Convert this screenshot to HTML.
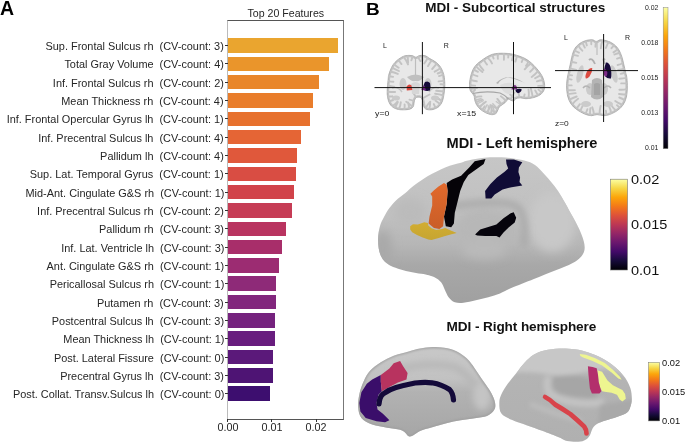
<!DOCTYPE html>
<html><head><meta charset="utf-8">
<style>
html,body{margin:0;padding:0;background:#fff;}
body{width:685px;height:443px;position:relative;overflow:hidden;will-change:transform;font-family:"Liberation Sans",sans-serif;color:#262626;}
.abs{position:absolute;}
.bar{position:absolute;left:227.8px;height:14.6px;}
.lab{position:absolute;right:461px;height:14px;line-height:14px;font-size:10.4px;white-space:nowrap;transform:scaleX(1.05);transform-origin:right center;}
.ytick{position:absolute;left:225.3px;width:2.5px;height:1px;background:#333;}
.panel{position:absolute;font-weight:bold;color:#000;}
.xt{position:absolute;top:422px;font-size:10.4px;width:40px;text-align:center;transform:scaleX(1.037);}
.ttl{position:absolute;font-weight:bold;color:#111;white-space:nowrap;}
.small{position:absolute;font-size:7px;color:#333;}
</style></head><body>
<div class="panel" style="left:0px;top:-3px;font-size:19.5px;">A</div>
<div class="abs" style="left:227.3px;top:7.2px;width:117px;text-align:center;font-size:10.6px;">Top 20 Features</div>
<!-- axes box -->
<div class="abs" style="left:227.3px;top:20px;width:114.8px;height:398.3px;border:1px solid #555;border-color:#555 #777 #555 #bbb;"></div>
<div class="bar" style="top:38.20px;width:110.00px;background:#EAA52F"></div>
<div class="lab" style="top:40.00px">Sup. Frontal Sulcus rh&nbsp; (CV-count: 3)</div>
<div class="ytick" style="top:45.00px"></div>
<div class="bar" style="top:56.53px;width:101.20px;background:#EA952B"></div>
<div class="lab" style="top:58.33px">Total Gray Volume&nbsp; (CV-count: 4)</div>
<div class="ytick" style="top:63.33px"></div>
<div class="bar" style="top:74.86px;width:91.00px;background:#E9862A"></div>
<div class="lab" style="top:76.66px">Inf. Frontal Sulcus rh&nbsp; (CV-count: 2)</div>
<div class="ytick" style="top:81.66px"></div>
<div class="bar" style="top:93.19px;width:85.20px;background:#E97D2B"></div>
<div class="lab" style="top:94.99px">Mean Thickness rh&nbsp; (CV-count: 4)</div>
<div class="ytick" style="top:99.99px"></div>
<div class="bar" style="top:111.52px;width:82.20px;background:#E7712E"></div>
<div class="lab" style="top:113.32px">Inf. Frontal Opercular Gyrus lh&nbsp; (CV-count: 1)</div>
<div class="ytick" style="top:118.32px"></div>
<div class="bar" style="top:129.85px;width:73.20px;background:#E56535"></div>
<div class="lab" style="top:131.65px">Inf. Precentral Sulcus lh&nbsp; (CV-count: 4)</div>
<div class="ytick" style="top:136.65px"></div>
<div class="bar" style="top:148.18px;width:69.60px;background:#E0583B"></div>
<div class="lab" style="top:149.98px">Pallidum lh&nbsp; (CV-count: 4)</div>
<div class="ytick" style="top:154.98px"></div>
<div class="bar" style="top:166.51px;width:68.50px;background:#D94D43"></div>
<div class="lab" style="top:168.31px">Sup. Lat. Temporal Gyrus&nbsp; (CV-count: 1)</div>
<div class="ytick" style="top:173.31px"></div>
<div class="bar" style="top:184.84px;width:65.80px;background:#D1434A"></div>
<div class="lab" style="top:186.64px">Mid-Ant. Cingulate G&amp;S rh&nbsp; (CV-count: 1)</div>
<div class="ytick" style="top:191.64px"></div>
<div class="bar" style="top:203.17px;width:64.40px;background:#C63C55"></div>
<div class="lab" style="top:204.97px">Inf. Precentral Sulcus rh&nbsp; (CV-count: 2)</div>
<div class="ytick" style="top:209.97px"></div>
<div class="bar" style="top:221.50px;width:58.30px;background:#B93460"></div>
<div class="lab" style="top:223.30px">Pallidum rh&nbsp; (CV-count: 3)</div>
<div class="ytick" style="top:228.30px"></div>
<div class="bar" style="top:239.83px;width:53.80px;background:#A82E6A"></div>
<div class="lab" style="top:241.63px">Inf. Lat. Ventricle lh&nbsp; (CV-count: 3)</div>
<div class="ytick" style="top:246.63px"></div>
<div class="bar" style="top:258.16px;width:51.30px;background:#9C2C72"></div>
<div class="lab" style="top:259.96px">Ant. Cingulate G&amp;S rh&nbsp; (CV-count: 1)</div>
<div class="ytick" style="top:264.96px"></div>
<div class="bar" style="top:276.49px;width:48.40px;background:#8E2A78"></div>
<div class="lab" style="top:278.29px">Pericallosal Sulcus rh&nbsp; (CV-count: 1)</div>
<div class="ytick" style="top:283.29px"></div>
<div class="bar" style="top:294.82px;width:48.20px;background:#82267D"></div>
<div class="lab" style="top:296.62px">Putamen rh&nbsp; (CV-count: 3)</div>
<div class="ytick" style="top:301.62px"></div>
<div class="bar" style="top:313.15px;width:47.30px;background:#75227E"></div>
<div class="lab" style="top:314.95px">Postcentral Sulcus lh&nbsp; (CV-count: 3)</div>
<div class="ytick" style="top:319.95px"></div>
<div class="bar" style="top:331.48px;width:47.10px;background:#681D7E"></div>
<div class="lab" style="top:333.28px">Mean Thickness lh&nbsp; (CV-count: 1)</div>
<div class="ytick" style="top:338.28px"></div>
<div class="bar" style="top:349.81px;width:45.50px;background:#5B197A"></div>
<div class="lab" style="top:351.61px">Post. Lateral Fissure&nbsp; (CV-count: 0)</div>
<div class="ytick" style="top:356.61px"></div>
<div class="bar" style="top:368.14px;width:44.80px;background:#4E1474"></div>
<div class="lab" style="top:369.94px">Precentral Gyrus lh&nbsp; (CV-count: 3)</div>
<div class="ytick" style="top:374.94px"></div>
<div class="bar" style="top:386.47px;width:42.50px;background:#3D0E6F"></div>
<div class="lab" style="top:388.27px">Post. Collat. Transv.Sulcus lh&nbsp; (CV-count: 0)</div>
<div class="ytick" style="top:393.27px"></div>
<div class="abs" style="left:227.3px;top:419px;width:1px;height:3px;background:#333"></div>
<div class="abs" style="left:271.4px;top:419px;width:1px;height:3px;background:#333"></div>
<div class="abs" style="left:315.8px;top:419px;width:1px;height:3px;background:#333"></div>
<div class="xt" style="left:207.8px">0.00</div>
<div class="xt" style="left:251.7px">0.01</div>
<div class="xt" style="left:295.7px">0.02</div>

<div class="panel" style="left:365.5px;top:0.3px;font-size:16.5px;transform:scaleX(1.15);transform-origin:left;">B</div>
<div class="ttl" style="left:425.3px;top:-0.4px;font-size:13.5px;">MDI - Subcortical structures</div>
<div class="ttl" style="left:446.6px;top:134.5px;font-size:14.6px;letter-spacing:-0.08px;">MDI - Left hemisphere</div>
<div class="ttl" style="left:446.6px;top:319px;font-size:13.6px;letter-spacing:-0.1px;">MDI - Right hemisphere</div>

<svg class="abs" style="left:0;top:0" width="685" height="443" viewBox="0 0 685 443">
<defs>
<linearGradient id="inf" x1="0" y1="0" x2="0" y2="1"><stop offset="0" stop-color="#fcffa4"/><stop offset="0.1" stop-color="#f6d746"/><stop offset="0.2" stop-color="#fca50a"/><stop offset="0.3" stop-color="#f37819"/><stop offset="0.4" stop-color="#dd513a"/><stop offset="0.5" stop-color="#bc3754"/><stop offset="0.6" stop-color="#932667"/><stop offset="0.7" stop-color="#6a176e"/><stop offset="0.8" stop-color="#420a68"/><stop offset="0.9" stop-color="#160b39"/><stop offset="1" stop-color="#000004"/></linearGradient>
<linearGradient id="lhg" x1="0" y1="0" x2="0" y2="1"><stop offset="0" stop-color="#c6c6c6"/><stop offset="0.4" stop-color="#c0c0c0"/><stop offset="0.6" stop-color="#b6b6b6"/><stop offset="0.74" stop-color="#a8a8a8"/><stop offset="1" stop-color="#a0a0a0"/></linearGradient>
<linearGradient id="rhg" x1="0" y1="0" x2="0" y2="1"><stop offset="0" stop-color="#c6c6c6"/><stop offset="0.5" stop-color="#b4b4b4"/><stop offset="1" stop-color="#a4a4a4"/></linearGradient>
<filter id="blur1"><feGaussianBlur stdDeviation="3"/></filter>
<filter id="blur3" x="-50%" y="-50%" width="200%" height="200%"><feGaussianBlur stdDeviation="3"/></filter>
<filter id="blur1s" x="-10%" y="-10%" width="120%" height="120%"><feGaussianBlur stdDeviation="0.8"/></filter>
<filter id="blur2" x="-10%" y="-10%" width="120%" height="120%"><feGaussianBlur stdDeviation="2"/></filter>
<filter id="blur5" x="-50%" y="-50%" width="200%" height="200%"><feGaussianBlur stdDeviation="5"/></filter>
<linearGradient id="rmg" x1="0" y1="0" x2="0" y2="1"><stop offset="0" stop-color="#c8c8c8"/><stop offset="0.35" stop-color="#c2c2c2"/><stop offset="0.5" stop-color="#b2b2b2"/><stop offset="1" stop-color="#a6a6a6"/></linearGradient>
<linearGradient id="rlg" x1="0" y1="0" x2="0" y2="1"><stop offset="0" stop-color="#c8c8c8"/><stop offset="0.25" stop-color="#b4b4b4"/><stop offset="1" stop-color="#b0b0b0"/></linearGradient>
<filter id="blur05"><feGaussianBlur stdDeviation="0.6"/></filter>
</defs>
<path d="M405.8,55.6 C407.6,55.3 410.4,55.3 412.1,55.6 C413.8,55.9 414.6,57.2 415.8,57.2 C417.0,57.2 417.9,55.9 419.4,55.6 C420.9,55.3 423.1,55.2 424.8,55.6 C426.5,56.0 427.5,57.2 429.3,58.3 C431.1,59.4 433.9,60.6 435.7,62.0 C437.5,63.4 439.0,64.8 440.2,66.5 C441.4,68.2 442.2,70.1 442.9,71.9 C443.6,73.7 444.0,75.0 444.3,77.3 C444.6,79.6 444.9,83.2 444.8,86.0 C444.8,88.8 444.4,91.5 444.0,94.0 C443.6,96.5 443.3,98.9 442.5,101.0 C441.7,103.1 440.6,105.1 439.0,106.5 C437.4,107.9 435.0,109.0 433.0,109.5 C431.0,110.0 428.5,109.9 427.0,109.5 C425.5,109.1 424.8,108.5 424.0,107.0 C423.2,105.5 423.1,102.1 422.5,100.5 C421.9,98.9 421.5,98.0 420.5,97.5 C419.5,97.0 417.5,97.0 416.5,97.5 C415.5,98.0 415.1,98.9 414.5,100.5 C413.9,102.1 414.1,105.5 413.0,107.0 C411.9,108.5 410.4,109.1 408.0,109.5 C405.6,109.9 401.2,110.0 398.5,109.5 C395.8,109.0 393.7,107.9 392.0,106.5 C390.3,105.1 389.3,103.1 388.5,101.0 C387.7,98.9 387.4,96.5 387.2,94.0 C387.0,91.5 387.3,88.5 387.5,86.0 C387.7,83.5 388.0,80.8 388.2,79.1 C388.4,77.3 388.2,77.0 388.6,75.5 C389.0,74.0 389.6,71.9 390.4,70.1 C391.1,68.3 392.0,66.3 393.1,64.7 C394.2,63.1 395.4,61.8 396.8,60.6 C398.2,59.4 399.8,58.2 401.3,57.4 C402.8,56.6 404.0,55.9 405.8,55.6Z" fill="#c3c3c3" stroke="#9c9c9c" stroke-width="0.7"/>
<clipPath id="ccor"><path d="M405.8,55.6 C407.6,55.3 410.4,55.3 412.1,55.6 C413.8,55.9 414.6,57.2 415.8,57.2 C417.0,57.2 417.9,55.9 419.4,55.6 C420.9,55.3 423.1,55.2 424.8,55.6 C426.5,56.0 427.5,57.2 429.3,58.3 C431.1,59.4 433.9,60.6 435.7,62.0 C437.5,63.4 439.0,64.8 440.2,66.5 C441.4,68.2 442.2,70.1 442.9,71.9 C443.6,73.7 444.0,75.0 444.3,77.3 C444.6,79.6 444.9,83.2 444.8,86.0 C444.8,88.8 444.4,91.5 444.0,94.0 C443.6,96.5 443.3,98.9 442.5,101.0 C441.7,103.1 440.6,105.1 439.0,106.5 C437.4,107.9 435.0,109.0 433.0,109.5 C431.0,110.0 428.5,109.9 427.0,109.5 C425.5,109.1 424.8,108.5 424.0,107.0 C423.2,105.5 423.1,102.1 422.5,100.5 C421.9,98.9 421.5,98.0 420.5,97.5 C419.5,97.0 417.5,97.0 416.5,97.5 C415.5,98.0 415.1,98.9 414.5,100.5 C413.9,102.1 414.1,105.5 413.0,107.0 C411.9,108.5 410.4,109.1 408.0,109.5 C405.6,109.9 401.2,110.0 398.5,109.5 C395.8,109.0 393.7,107.9 392.0,106.5 C390.3,105.1 389.3,103.1 388.5,101.0 C387.7,98.9 387.4,96.5 387.2,94.0 C387.0,91.5 387.3,88.5 387.5,86.0 C387.7,83.5 388.0,80.8 388.2,79.1 C388.4,77.3 388.2,77.0 388.6,75.5 C389.0,74.0 389.6,71.9 390.4,70.1 C391.1,68.3 392.0,66.3 393.1,64.7 C394.2,63.1 395.4,61.8 396.8,60.6 C398.2,59.4 399.8,58.2 401.3,57.4 C402.8,56.6 404.0,55.9 405.8,55.6Z"/></clipPath>
<path d="M406.1,57.5 L405.8,57.5 L405.4,57.6 L405.1,57.7 L404.8,57.8 L404.5,57.9 L404.2,58.0 L403.9,58.2 L403.6,58.3 L403.3,58.5 L402.9,58.7 L402.6,58.9 L402.2,59.1 L401.9,59.3 L401.5,59.5 L401.2,59.7 L400.8,59.9 L400.5,60.2 L400.1,60.4 L399.7,60.7 L399.4,60.9 L399.0,61.2 L398.7,61.5 L398.4,61.7 L398.1,62.0 L397.7,62.3 L397.4,62.6 L397.1,62.9 L396.8,63.2 L396.5,63.5 L396.2,63.8 L396.0,64.1 L395.7,64.4 L395.4,64.7 L395.2,65.1 L394.9,65.4 L394.7,65.8 L394.4,66.1 L394.2,66.5 L394.0,66.9 L393.8,67.3 L393.6,67.7 L393.3,68.1 L393.1,68.6 L392.9,69.0 L392.7,69.5 L392.5,69.9 L392.3,70.4 L392.2,70.8 L392.0,71.3 L391.8,71.7 L391.6,72.2 L391.5,72.6 L391.3,73.1 L391.2,73.5 L391.0,74.0 L390.9,74.4 L390.8,74.8 L390.6,75.2 L390.5,75.6 L390.4,75.9 L390.4,76.3 L390.3,76.5 L390.3,76.7 L390.3,76.9 L390.2,77.1 L390.2,77.3 L390.2,77.6 L390.2,77.8 L390.2,77.8 L390.2,78.1 L390.2,78.1 L390.2,78.5 L390.2,78.5 L390.1,78.8 L390.1,78.9 L390.1,79.3 L390.1,79.3 L390.0,79.8 L390.0,79.8 L390.0,80.3 L390.0,80.3 L389.9,80.8 L389.9,81.3 L389.8,81.9 L389.7,82.5 L389.7,83.1 L389.6,83.7 L389.5,84.3 L389.5,84.9 L389.4,85.5 L389.4,86.1 L389.4,86.8 L389.4,86.8 L389.3,87.4 L389.3,88.1 L389.2,88.8 L389.2,89.4 L389.1,90.1 L389.1,90.8 L389.1,91.4 L389.1,92.1 L389.1,92.7 L389.1,93.3 L389.1,93.9 L389.1,94.5 L389.2,95.1 L389.2,95.6 L389.3,96.2 L389.4,96.8 L389.5,97.3 L389.6,97.9 L389.7,98.4 L389.8,98.9 L390.0,99.4 L390.1,99.9 L390.3,100.3 L390.5,100.8 L390.7,101.3 L390.9,101.7 L391.1,102.2 L391.3,102.6 L391.6,103.0 L391.8,103.4 L392.1,103.8 L392.3,104.1 L392.6,104.5 L392.9,104.8 L393.2,105.1 L393.6,105.3 L394.0,105.6 L394.4,105.9 L394.8,106.2 L395.2,106.4 L395.7,106.6 L396.2,106.8 L396.7,107.0 L397.2,107.2 L397.7,107.4 L398.3,107.5 L398.8,107.6 L399.5,107.7 L400.2,107.8 L400.9,107.9 L401.7,107.9 L402.5,107.9 L403.3,107.9 L404.2,107.9 L405.0,107.9 L405.7,107.9 L406.5,107.8 L407.1,107.7 L407.7,107.6 L408.2,107.5 L408.7,107.4 L409.1,107.3 L409.5,107.2 L409.9,107.1 L410.2,106.9 L410.4,106.8 L410.7,106.7 L410.9,106.5 L411.1,106.3 L411.3,106.1 L411.4,105.9 L411.5,105.7 L411.7,105.5 L411.8,105.1 L411.9,104.6 L412.0,104.1 L412.1,103.5 L412.1,102.9 L412.2,102.3 L412.2,102.3 L412.3,101.7 L412.3,101.7 L412.4,101.1 L412.4,101.0 L412.5,100.5 L412.6,100.4 L412.7,99.9 L412.7,99.8 L412.9,99.5 L412.9,99.4 L413.0,99.1 L413.0,99.0 L413.2,98.7 L413.2,98.7 L413.3,98.3 L413.4,98.3 L413.5,98.0 L413.5,97.9 L413.7,97.6 L413.8,97.5 L413.9,97.3 L414.0,97.2 L414.2,97.0 L414.3,96.8 L414.5,96.7 L414.6,96.5 L414.8,96.4 L415.0,96.2 L415.2,96.1 L415.3,96.0 L415.6,95.8 L415.8,95.8 L416.0,95.6 L416.2,95.6 L416.5,95.5 L416.7,95.4 L417.0,95.4 L417.1,95.3 L417.5,95.3 L417.6,95.3 L418.0,95.2 L418.1,95.2 L418.4,95.2 L418.6,95.2 L418.9,95.2 L419.0,95.2 L419.4,95.3 L419.5,95.3 L419.9,95.3 L420.0,95.4 L420.3,95.4 L420.5,95.5 L420.8,95.6 L421.0,95.6 L421.2,95.8 L421.4,95.8 L421.7,96.0 L421.8,96.1 L422.0,96.2 L422.2,96.4 L422.4,96.5 L422.5,96.7 L422.7,96.8 L422.8,97.0 L423.0,97.2 L423.1,97.3 L423.2,97.5 L423.3,97.6 L423.5,97.9 L423.5,98.0 L423.6,98.3 L423.7,98.3 L423.8,98.7 L423.8,98.7 L424.0,99.0 L424.0,99.1 L424.1,99.4 L424.1,99.5 L424.3,99.8 L424.3,99.9 L424.4,100.4 L424.5,100.5 L424.6,101.0 L424.6,101.0 L424.7,101.6 L424.7,101.6 L424.9,102.2 L424.9,102.2 L425.0,102.8 L425.0,102.9 L425.1,103.5 L425.2,104.1 L425.3,104.6 L425.4,105.1 L425.5,105.6 L425.6,105.9 L425.7,106.2 L425.8,106.4 L426.0,106.7 L426.1,106.8 L426.2,107.0 L426.3,107.1 L426.4,107.2 L426.5,107.3 L426.7,107.3 L426.8,107.4 L427.0,107.5 L427.2,107.6 L427.5,107.7 L427.8,107.7 L428.1,107.8 L428.5,107.9 L428.9,107.9 L429.4,107.9 L429.8,107.9 L430.3,107.9 L430.8,107.9 L431.2,107.9 L431.7,107.8 L432.1,107.7 L432.5,107.7 L433.0,107.5 L433.4,107.4 L433.9,107.2 L434.4,107.1 L434.9,106.9 L435.3,106.6 L435.8,106.4 L436.2,106.2 L436.6,105.9 L437.0,105.6 L437.4,105.4 L437.7,105.1 L438.0,104.8 L438.3,104.5 L438.6,104.1 L438.9,103.8 L439.2,103.4 L439.4,103.0 L439.7,102.6 L439.9,102.2 L440.1,101.7 L440.3,101.2 L440.5,100.8 L440.7,100.3 L440.9,99.8 L441.1,99.4 L441.2,98.9 L441.3,98.4 L441.4,97.8 L441.6,97.3 L441.7,96.7 L441.8,96.2 L441.8,95.6 L441.9,95.0 L442.0,94.3 L442.0,94.3 L442.1,93.7 L442.2,93.1 L442.3,92.5 L442.4,91.8 L442.5,91.2 L442.6,90.5 L442.6,89.9 L442.7,89.3 L442.8,88.6 L442.8,87.9 L442.9,87.3 L442.9,86.6 L442.9,86.0 L442.9,85.3 L442.9,84.6 L442.9,83.8 L442.9,83.1 L442.8,82.4 L442.8,81.6 L442.7,80.9 L442.7,80.1 L442.6,79.4 L442.6,78.8 L442.5,78.1 L442.4,77.6 L442.3,77.0 L442.3,76.5 L442.2,76.1 L442.1,75.7 L442.0,75.3 L441.9,74.9 L441.8,74.5 L441.7,74.2 L441.6,73.8 L441.4,73.4 L441.3,73.0 L441.1,72.6 L441.0,72.1 L440.8,71.7 L440.6,71.3 L440.4,70.8 L440.2,70.4 L440.0,70.0 L439.8,69.5 L439.6,69.1 L439.4,68.7 L439.2,68.4 L438.9,68.0 L438.7,67.6 L438.4,67.2 L438.1,66.9 L437.8,66.5 L437.5,66.2 L437.2,65.8 L436.8,65.5 L436.5,65.1 L436.1,64.8 L435.8,64.5 L435.4,64.2 L435.0,63.8 L434.6,63.5 L434.1,63.2 L433.7,62.9 L433.2,62.6 L432.7,62.3 L432.1,62.0 L431.6,61.7 L431.0,61.4 L430.5,61.1 L429.9,60.8 L429.9,60.8 L429.4,60.5 L429.4,60.5 L428.9,60.2 L428.8,60.2 L428.4,59.9 L428.3,59.9 L427.9,59.7 L427.8,59.6 L427.4,59.3 L427.4,59.3 L427.0,59.1 L427.0,59.0 L426.6,58.8 L426.6,58.8 L426.2,58.5 L425.9,58.3 L425.6,58.1 L425.3,57.9 L425.1,57.7 L424.8,57.6 L424.6,57.5 L424.3,57.4 L424.0,57.4 L423.7,57.3 L423.3,57.3 L422.9,57.2 L422.5,57.2 L422.1,57.2 L421.7,57.2 L421.3,57.3 L420.8,57.3 L420.5,57.4 L420.1,57.4 L419.8,57.5 L419.6,57.5 L419.4,57.6 L419.2,57.7 L419.0,57.8 L418.8,57.9 L418.5,58.1 L418.5,58.1 L418.2,58.3 L418.2,58.3 L417.9,58.5 L417.8,58.5 L417.5,58.7 L417.4,58.8 L417.1,58.9 L416.9,58.9 L416.6,59.0 L416.4,59.0 L416.3,59.1 L416.0,59.1 L415.8,59.1 L415.6,59.1 L415.3,59.1 L415.2,59.0 L415.0,59.0 L414.7,58.9 L414.5,58.9 L414.2,58.7 L414.1,58.7 L413.8,58.5 L413.7,58.5 L413.4,58.3 L413.4,58.3 L413.1,58.1 L412.8,57.9 L412.6,57.8 L412.4,57.7 L412.2,57.6 L412.0,57.5 L411.8,57.5 L411.4,57.4 L411.0,57.4 L410.5,57.3 L410.0,57.3 L409.5,57.3 L409.0,57.3 L408.5,57.3 L407.9,57.3 L407.4,57.3 L407.0,57.4 L406.5,57.4 L406.1,57.5Z" fill="#e8e8e8"/>
<path d="M403.4,56.3 Q406.6,60.5 408.0,64.4 M397.9,59.7 Q400.0,62.1 401.5,64.1 M393.6,63.9 Q396.3,66.1 398.6,67.8 M391.6,67.4 Q395.6,69.4 398.9,71.0 M389.8,71.5 Q394.4,72.5 397.8,73.9 M388.4,76.3 Q391.0,76.5 393.1,76.9 M388.0,80.8 Q390.9,81.7 393.4,81.8 M387.6,85.2 Q391.1,86.8 394.1,86.7 M387.2,91.7 Q391.5,91.9 395.1,92.0 M387.4,96.2 Q390.2,96.8 392.3,96.3 M388.7,101.5 Q391.2,100.8 393.1,100.0 M392.0,106.5 Q395.6,104.2 397.5,101.5 M394.9,108.4 Q396.4,104.9 397.8,102.1 M398.8,109.5 Q400.5,105.6 400.8,102.3 M404.2,109.8 Q404.9,106.8 404.6,104.4 M409.2,109.3 Q409.0,105.5 408.1,102.5 M413.0,107.0 Q409.5,103.9 406.2,101.8 M414.3,101.2 Q411.7,100.0 409.5,99.6 M416.1,97.7 Q415.2,95.4 413.9,93.8 M421.8,98.9 Q426.0,96.4 429.5,94.5 M423.1,103.2 Q420.9,103.8 419.1,104.0 M425.2,108.7 Q427.6,104.5 430.2,101.7 M429.0,109.8 Q430.2,105.7 430.2,102.4 M435.8,108.5 Q434.7,106.1 433.8,104.1 M440.7,104.5 Q438.0,102.3 435.6,100.8 M442.4,101.4 Q438.9,98.5 435.6,97.5 M443.8,95.5 Q439.0,94.2 435.1,93.8 M444.4,91.1 Q439.8,91.5 436.2,90.8 M444.8,84.6 Q442.4,84.1 440.5,84.2 M444.6,80.6 Q441.3,81.3 438.6,81.4 M443.8,74.7 Q441.2,75.6 439.0,76.1 M442.7,71.4 Q440.0,72.6 437.7,73.5 M441.0,67.7 Q437.6,70.1 434.7,71.7 M437.1,63.2 Q434.5,66.5 432.2,69.0 M432.2,59.9 Q429.4,63.0 428.0,66.1 M427.9,57.3 Q426.3,61.0 424.3,63.4 M421.9,55.3 Q422.5,58.3 422.4,60.7 M418.0,56.2 Q419.0,59.1 420.3,61.1 M412.6,55.7 Q412.1,58.3 411.4,60.3 M407.6,55.4 Q408.0,59.6 408.1,63.1" fill="none" stroke="#c3c3c3" stroke-width="1.9" stroke-linecap="round" clip-path="url(#ccor)"/>
<path d="M415.5,57 L415.5,75" stroke="#bdbdbd" stroke-width="1.2"/>
<g filter="url(#blur05)" fill="#cbcbcb">
<ellipse cx="403" cy="84" rx="3.5" ry="6"/>
<ellipse cx="428" cy="84" rx="3.5" ry="6"/>
<ellipse cx="396" cy="98" rx="4" ry="2.5"/>
<ellipse cx="435" cy="98" rx="4" ry="2.5"/>
</g>
<path d="M407,77 Q415.5,72 424,77 Q420,82 415.5,81 Q411,82 407,77Z" fill="#c0c0c0"/>
<path d="M411,84 Q415.5,80 420,84 L419,94 L412,94Z" fill="#d6d6d6"/>
<path d="M392,88 Q398,86 402,92 M439,88 Q433,86 429,92" fill="none" stroke="#c4c4c4" stroke-width="1.5"/>
<path d="M406.8,90.5 L406.6,86.5 Q409,83 411.5,85.5 L412.3,90 Z" fill="#d9473e"/>
<path d="M425,82 Q428,80.5 430,83 Q431,87 430,90.5 Q426,91.5 424,90 Q422,87 425,82Z" fill="#160b3a"/>
<path d="M421.5,90 Q421.6,86.5 424.5,85.5 L426,90.5Z" fill="#6f2382"/>
<path d="M469.5,84.0 C469.6,81.5 470.2,77.8 471.0,75.0 C471.8,72.2 472.8,69.4 474.5,67.0 C476.2,64.6 478.4,62.7 481.4,60.6 C484.4,58.5 488.4,55.5 492.4,54.3 C496.3,53.1 501.2,53.2 505.1,53.3 C509.1,53.4 512.4,54.0 516.1,55.1 C519.8,56.2 523.8,57.6 527.2,59.8 C530.6,62.0 534.1,65.5 536.7,68.5 C539.3,71.5 541.7,74.8 543.0,78.0 C544.3,81.2 544.9,84.9 544.6,87.5 C544.3,90.1 543.2,92.1 541.4,93.8 C539.6,95.5 536.6,96.7 534.0,97.5 C531.4,98.3 528.1,98.7 525.8,98.7 C523.5,98.8 521.9,97.8 520.2,97.8 C518.5,97.8 516.6,98.4 515.5,98.9 C514.4,99.4 514.5,100.8 513.7,101.0 C512.9,101.2 511.8,100.6 510.9,100.3 C510.0,100.0 509.0,98.8 508.1,99.2 C507.2,99.6 506.4,101.4 505.3,102.4 C504.2,103.4 502.5,104.4 501.5,105.2 C500.5,106.0 499.8,106.3 499.2,107.1 C498.6,107.9 498.4,108.8 497.8,109.9 C497.2,111.0 497.0,112.8 495.9,113.6 C494.8,114.4 492.9,114.8 491.2,114.6 C489.5,114.4 487.5,113.6 485.6,112.7 C483.7,111.8 481.6,110.4 480.0,109.0 C478.4,107.6 477.2,105.9 476.3,104.3 C475.4,102.7 475.0,100.8 474.6,99.5 C474.2,98.2 474.6,97.2 474.2,96.2 C473.8,95.2 473.2,94.6 472.5,93.6 C471.8,92.6 470.7,91.9 470.2,90.3 C469.7,88.7 469.4,86.5 469.5,84.0Z" fill="#c3c3c3" stroke="#9c9c9c" stroke-width="0.7"/>
<clipPath id="csag"><path d="M469.5,84.0 C469.6,81.5 470.2,77.8 471.0,75.0 C471.8,72.2 472.8,69.4 474.5,67.0 C476.2,64.6 478.4,62.7 481.4,60.6 C484.4,58.5 488.4,55.5 492.4,54.3 C496.3,53.1 501.2,53.2 505.1,53.3 C509.1,53.4 512.4,54.0 516.1,55.1 C519.8,56.2 523.8,57.6 527.2,59.8 C530.6,62.0 534.1,65.5 536.7,68.5 C539.3,71.5 541.7,74.8 543.0,78.0 C544.3,81.2 544.9,84.9 544.6,87.5 C544.3,90.1 543.2,92.1 541.4,93.8 C539.6,95.5 536.6,96.7 534.0,97.5 C531.4,98.3 528.1,98.7 525.8,98.7 C523.5,98.8 521.9,97.8 520.2,97.8 C518.5,97.8 516.6,98.4 515.5,98.9 C514.4,99.4 514.5,100.8 513.7,101.0 C512.9,101.2 511.8,100.6 510.9,100.3 C510.0,100.0 509.0,98.8 508.1,99.2 C507.2,99.6 506.4,101.4 505.3,102.4 C504.2,103.4 502.5,104.4 501.5,105.2 C500.5,106.0 499.8,106.3 499.2,107.1 C498.6,107.9 498.4,108.8 497.8,109.9 C497.2,111.0 497.0,112.8 495.9,113.6 C494.8,114.4 492.9,114.8 491.2,114.6 C489.5,114.4 487.5,113.6 485.6,112.7 C483.7,111.8 481.6,110.4 480.0,109.0 C478.4,107.6 477.2,105.9 476.3,104.3 C475.4,102.7 475.0,100.8 474.6,99.5 C474.2,98.2 474.6,97.2 474.2,96.2 C473.8,95.2 473.2,94.6 472.5,93.6 C471.8,92.6 470.7,91.9 470.2,90.3 C469.7,88.7 469.4,86.5 469.5,84.0Z"/></clipPath>
<path d="M471.4,84.1 L471.4,84.7 L471.4,85.2 L471.4,85.8 L471.4,86.3 L471.4,86.8 L471.5,87.3 L471.6,87.7 L471.6,88.2 L471.7,88.6 L471.8,89.0 L471.9,89.4 L472.0,89.7 L472.1,90.0 L472.2,90.2 L472.3,90.4 L472.4,90.6 L472.6,90.8 L472.7,91.0 L472.9,91.2 L473.1,91.4 L473.3,91.6 L473.4,91.6 L473.6,91.9 L473.6,91.9 L473.8,92.2 L473.9,92.2 L474.0,92.5 L474.1,92.5 L474.2,92.7 L474.4,92.9 L474.5,93.1 L474.7,93.3 L474.7,93.3 L474.8,93.5 L474.8,93.6 L475.0,93.8 L475.0,93.8 L475.2,94.0 L475.2,94.0 L475.3,94.2 L475.4,94.3 L475.5,94.5 L475.5,94.6 L475.7,94.8 L475.7,94.9 L475.8,95.2 L475.9,95.3 L476.0,95.5 L476.0,95.6 L476.1,95.9 L476.1,96.1 L476.2,96.3 L476.2,96.4 L476.2,96.7 L476.3,96.8 L476.3,97.0 L476.3,97.1 L476.3,97.4 L476.3,97.4 L476.3,97.7 L476.3,97.9 L476.3,98.2 L476.3,98.4 L476.4,98.6 L476.4,98.8 L476.4,99.1 L476.5,99.4 L476.6,99.7 L476.7,100.1 L476.8,100.5 L476.9,100.8 L477.1,101.2 L477.2,101.6 L477.3,102.0 L477.5,102.3 L477.6,102.7 L477.8,103.0 L478.0,103.4 L478.2,103.7 L478.4,104.1 L478.6,104.5 L478.9,104.8 L479.1,105.2 L479.4,105.6 L479.7,105.9 L480.0,106.3 L480.3,106.6 L480.6,107.0 L480.9,107.3 L481.3,107.6 L481.6,107.9 L482.0,108.2 L482.4,108.5 L482.8,108.8 L483.3,109.1 L483.7,109.4 L484.2,109.7 L484.6,110.0 L485.1,110.3 L485.6,110.5 L486.0,110.8 L486.5,111.0 L486.9,111.2 L487.3,111.4 L487.8,111.6 L488.2,111.8 L488.7,112.0 L489.1,112.2 L489.5,112.3 L489.9,112.4 L490.3,112.5 L490.7,112.6 L491.0,112.7 L491.4,112.7 L491.7,112.7 L492.0,112.7 L492.4,112.7 L492.7,112.7 L493.1,112.6 L493.4,112.6 L493.7,112.5 L494.0,112.4 L494.2,112.3 L494.5,112.2 L494.6,112.1 L494.8,112.1 L494.8,112.0 L494.9,111.9 L495.0,111.8 L495.1,111.7 L495.2,111.4 L495.3,111.2 L495.4,110.9 L495.5,110.5 L495.6,110.2 L495.6,110.2 L495.8,109.9 L495.8,109.8 L495.9,109.5 L495.9,109.4 L496.1,109.1 L496.1,109.1 L496.2,108.8 L496.3,108.6 L496.4,108.4 L496.5,108.1 L496.6,107.9 L496.6,107.9 L496.7,107.6 L496.7,107.6 L496.8,107.4 L496.9,107.3 L497.0,107.1 L497.0,107.1 L497.1,106.8 L497.2,106.8 L497.3,106.6 L497.3,106.5 L497.5,106.3 L497.5,106.2 L497.7,106.0 L497.7,105.9 L497.9,105.7 L498.0,105.6 L498.1,105.5 L498.2,105.4 L498.3,105.2 L498.4,105.2 L498.6,105.0 L498.6,105.0 L498.8,104.8 L498.9,104.8 L499.0,104.6 L499.1,104.6 L499.3,104.5 L499.3,104.5 L499.5,104.3 L499.5,104.3 L499.7,104.2 L499.9,104.0 L500.1,103.9 L500.4,103.7 L500.4,103.7 L500.6,103.5 L500.7,103.5 L500.9,103.2 L501.0,103.2 L501.3,103.0 L501.3,103.0 L501.6,102.8 L501.6,102.8 L501.9,102.6 L502.3,102.3 L502.6,102.1 L502.9,101.9 L503.2,101.6 L503.5,101.4 L503.8,101.2 L504.0,101.0 L504.2,100.8 L504.4,100.6 L504.6,100.4 L504.8,100.1 L505.0,99.8 L505.2,99.5 L505.2,99.4 L505.4,99.1 L505.5,99.1 L505.7,98.8 L505.8,98.7 L506.0,98.5 L506.1,98.4 L506.3,98.1 L506.5,98.0 L506.7,97.8 L506.9,97.7 L507.0,97.6 L507.2,97.5 L507.4,97.4 L507.6,97.4 L507.9,97.3 L508.1,97.3 L508.3,97.2 L508.5,97.2 L508.7,97.2 L508.9,97.3 L509.1,97.3 L509.3,97.3 L509.4,97.4 L509.7,97.5 L509.8,97.5 L510.1,97.7 L510.2,97.7 L510.4,97.9 L510.5,97.9 L510.7,98.0 L510.8,98.1 L511.0,98.2 L511.2,98.3 L511.3,98.4 L511.4,98.5 L511.6,98.5 L511.8,98.6 L511.8,98.6 L512.0,98.7 L512.1,98.7 L512.3,98.8 L512.3,98.8 L512.6,98.9 L512.8,99.0 L512.9,99.0 L512.9,99.0 L513.0,98.9 L513.1,98.7 L513.2,98.5 L513.3,98.3 L513.5,98.2 L513.6,98.0 L513.8,97.8 L514.0,97.6 L514.1,97.5 L514.3,97.4 L514.5,97.3 L514.7,97.2 L515.0,97.0 L515.1,97.0 L515.4,96.9 L515.4,96.9 L515.8,96.7 L515.9,96.7 L516.2,96.6 L516.3,96.6 L516.7,96.4 L516.7,96.4 L517.1,96.3 L517.2,96.3 L517.6,96.2 L517.7,96.2 L518.1,96.1 L518.2,96.1 L518.6,96.0 L518.7,96.0 L519.1,96.0 L519.2,96.0 L519.6,95.9 L519.7,95.9 L520.1,95.9 L520.3,95.9 L520.7,95.9 L520.8,95.9 L521.3,96.0 L521.4,96.0 L521.8,96.1 L521.9,96.1 L522.3,96.2 L522.4,96.2 L522.8,96.3 L522.8,96.3 L523.3,96.4 L523.7,96.5 L524.1,96.6 L524.5,96.7 L524.9,96.8 L525.3,96.8 L525.8,96.8 L526.3,96.8 L526.9,96.8 L527.5,96.7 L528.2,96.7 L528.9,96.6 L529.5,96.5 L530.2,96.4 L530.9,96.3 L531.6,96.2 L532.2,96.0 L532.8,95.9 L533.4,95.7 L534.1,95.5 L534.7,95.3 L535.3,95.0 L536.0,94.8 L536.6,94.5 L537.2,94.3 L537.8,94.0 L538.3,93.7 L538.8,93.4 L539.3,93.0 L539.7,92.7 L540.1,92.4 L540.5,92.1 L540.8,91.7 L541.1,91.3 L541.4,90.9 L541.6,90.5 L541.9,90.1 L542.1,89.7 L542.3,89.3 L542.4,88.8 L542.5,88.3 L542.6,87.8 L542.7,87.3 L542.8,86.7 L542.8,86.1 L542.7,85.4 L542.7,84.7 L542.6,84.0 L542.5,83.3 L542.4,82.5 L542.2,81.7 L542.0,81.0 L541.8,80.2 L541.5,79.5 L541.2,78.7 L540.9,78.0 L540.6,77.3 L540.2,76.5 L539.7,75.8 L539.3,75.0 L538.8,74.3 L538.2,73.5 L537.7,72.7 L537.1,72.0 L536.5,71.2 L535.9,70.5 L535.3,69.7 L534.6,69.0 L533.9,68.2 L533.2,67.5 L532.5,66.7 L531.7,66.0 L531.0,65.2 L530.2,64.5 L529.4,63.8 L528.6,63.2 L527.8,62.5 L527.0,61.9 L526.2,61.4 L525.4,60.9 L524.5,60.4 L523.7,60.0 L522.8,59.6 L521.9,59.2 L521.0,58.8 L520.1,58.4 L519.2,58.1 L518.3,57.8 L517.4,57.5 L516.5,57.2 L515.6,56.9 L514.7,56.7 L513.8,56.4 L513.0,56.2 L512.1,56.0 L511.2,55.9 L510.4,55.7 L509.5,55.6 L508.7,55.5 L507.8,55.4 L506.9,55.3 L506.0,55.2 L505.0,55.2 L504.0,55.2 L503.0,55.1 L502.0,55.1 L500.9,55.1 L499.9,55.1 L498.9,55.2 L497.8,55.3 L496.8,55.4 L495.8,55.5 L494.8,55.7 L493.9,55.9 L493.0,56.1 L492.1,56.4 L491.2,56.8 L490.3,57.2 L489.4,57.7 L488.4,58.2 L487.5,58.7 L486.6,59.3 L485.8,59.9 L484.9,60.5 L484.1,61.0 L483.3,61.6 L482.5,62.1 L481.8,62.7 L481.1,63.2 L480.5,63.6 L479.9,64.1 L479.3,64.6 L478.8,65.1 L478.2,65.6 L477.8,66.1 L477.3,66.6 L476.9,67.1 L476.4,67.6 L476.0,68.1 L475.7,68.6 L475.3,69.2 L475.0,69.8 L474.7,70.3 L474.4,70.9 L474.2,71.6 L473.9,72.2 L473.7,72.8 L473.5,73.5 L473.2,74.2 L473.0,74.8 L472.8,75.5 L472.6,76.2 L472.5,76.9 L472.3,77.6 L472.1,78.4 L472.0,79.2 L471.9,79.9 L471.7,80.7 L471.6,81.4 L471.6,82.1 L471.5,82.8 L471.4,83.5 L471.4,84.1Z" fill="#e8e8e8"/>
<path d="M469.5,85.0 Q472.6,85.7 475.1,85.6 M469.9,89.0 Q473.9,88.8 477.1,87.9 M471.9,92.9 Q473.5,91.1 475.0,89.9 M474.4,97.6 Q478.2,96.4 481.4,96.4 M475.5,102.5 Q479.4,100.8 482.6,99.7 M478.3,107.2 Q482.7,104.5 485.8,101.7 M482.0,110.5 Q483.3,108.1 484.7,106.3 M486.3,113.0 Q489.3,109.0 490.8,105.3 M491.0,114.6 Q491.5,109.6 492.0,105.5 M496.2,113.3 Q493.9,112.1 492.6,110.5 M498.1,109.2 Q493.9,106.7 490.2,105.2 M502.0,104.9 Q499.3,101.6 497.4,98.9 M506.2,101.4 Q503.6,98.1 500.9,96.3 M510.0,99.8 Q512.8,95.8 514.6,92.2 M514.9,99.4 Q512.5,96.5 510.2,94.6 M519.6,97.8 Q518.5,94.1 518.5,91.0 M523.5,98.4 Q524.3,96.2 524.6,94.4 M528.5,98.5 Q529.2,93.5 528.5,89.6 M532.9,97.8 Q532.0,92.7 530.9,88.7 M538.5,95.7 Q536.3,93.0 535.2,90.4 M542.1,93.1 Q540.2,91.1 538.5,89.6 M544.1,89.7 Q542.2,88.4 540.4,88.0 M544.7,85.7 Q541.1,85.8 538.2,85.9 M543.8,80.3 Q539.9,80.2 537.0,81.3 M541.4,74.8 Q537.8,76.5 535.1,78.3 M538.5,70.7 Q535.1,74.7 531.7,77.0 M534.6,66.2 Q532.7,69.8 530.2,71.8 M531.4,63.0 Q527.3,66.1 524.7,69.3 M528.7,60.8 Q527.7,64.0 526.0,65.8 M523.1,57.6 Q522.8,60.2 521.7,62.0 M517.0,55.4 Q516.4,58.9 515.4,61.6 M513.1,54.3 Q512.7,57.7 512.0,60.4 M508.2,53.5 Q508.5,55.8 508.2,57.6 M503.7,53.3 Q504.1,56.8 503.9,59.7 M498.2,53.3 Q497.5,56.5 497.9,58.9 M491.8,54.5 Q493.1,56.6 493.6,58.5 M486.9,56.9 Q490.4,60.1 492.0,63.4 M483.5,59.1 Q485.2,62.3 487.0,64.6 M478.3,63.0 Q480.6,67.3 483.4,70.2 M475.5,65.8 Q479.1,69.4 482.4,72.1 M473.2,69.1 Q475.7,70.7 477.9,71.8 M471.4,73.7 Q474.5,75.5 477.4,76.2 M470.0,79.6 Q473.7,81.0 476.8,81.3" fill="none" stroke="#c3c3c3" stroke-width="1.9" stroke-linecap="round" clip-path="url(#csag)"/>
<path d="M472.5,93.5 Q486,90.5 500,93 Q505,95 508.5,99" fill="none" stroke="#a6a6a6" stroke-width="1.2"/>
<path d="M481.7,98.5 L475.8,100.0 M483.8,100.5 L476.8,104.0 M483.7,102.5 L479.8,108.0 M487.3,104.2 L483.8,111.5 M488.2,105.2 L488.8,113.5 M492.3,105.0 L494.8,113.0 M492.4,103.2 L498.3,109.5 M495.8,101.2 L501.8,105.5" fill="none" stroke="#c4c4c4" stroke-width="1.3"/>
<path d="M496,83 Q508,71 526,84 Q520,80 508,77.5 Q500,79 498,84Z" fill="#b4b4b4"/>
<path d="M500,85 Q510,80 520,86 Q516,93 508,94 Q502,92 500,85Z" fill="#dcdcdc"/>
<path d="M511.5,89.5 Q512,85.5 515,85 Q517.5,86 517,89.5Z" fill="#7a2a84"/>
<path d="M515.5,90 Q518,88 521.5,89 Q522,92 518,93.2 Q515.5,92.5 515.5,90Z" fill="#150a38"/>
<path d="M596.3,41.4 C595.0,41.4 594.1,40.0 592.5,39.8 C590.9,39.6 588.7,39.8 586.8,40.3 C584.9,40.8 582.8,41.6 581.1,42.6 C579.4,43.6 577.7,45.0 576.4,46.4 C575.1,47.8 574.3,49.3 573.5,51.2 C572.7,53.1 572.1,55.6 571.6,57.8 C571.1,60.0 570.7,62.1 570.2,64.5 C569.7,66.9 569.0,69.4 568.5,72.0 C568.0,74.6 567.3,77.5 567.0,80.0 C566.7,82.5 566.5,84.3 566.6,87.0 C566.7,89.7 566.9,93.2 567.6,96.0 C568.3,98.8 569.5,101.7 571.0,103.9 C572.5,106.2 574.4,107.8 576.7,109.5 C579.0,111.2 582.2,113.0 584.6,114.0 C587.0,115.0 589.3,115.6 591.4,115.7 C593.5,115.8 594.9,114.6 597.0,114.6 C599.1,114.6 601.7,115.7 603.8,115.7 C605.9,115.7 607.1,115.4 609.4,114.6 C611.6,113.8 615.0,112.2 617.3,110.6 C619.6,109.0 621.5,107.2 623.0,105.0 C624.5,102.8 625.7,99.9 626.4,97.1 C627.1,94.3 627.2,91.2 627.3,88.0 C627.4,84.8 627.2,80.7 626.9,78.0 C626.6,75.3 626.0,74.2 625.5,72.0 C625.0,69.8 624.4,67.0 623.8,64.5 C623.2,62.0 622.7,59.3 621.9,56.9 C621.1,54.5 620.2,52.1 619.1,50.2 C618.0,48.3 616.7,46.8 615.3,45.5 C613.9,44.2 612.2,43.1 610.5,42.2 C608.8,41.3 606.5,40.7 604.8,40.3 C603.1,39.9 601.5,39.6 600.1,39.8 C598.7,40.0 597.6,41.4 596.3,41.4Z" fill="#c3c3c3" stroke="#9c9c9c" stroke-width="0.7"/>
<clipPath id="cax"><path d="M596.3,41.4 C595.0,41.4 594.1,40.0 592.5,39.8 C590.9,39.6 588.7,39.8 586.8,40.3 C584.9,40.8 582.8,41.6 581.1,42.6 C579.4,43.6 577.7,45.0 576.4,46.4 C575.1,47.8 574.3,49.3 573.5,51.2 C572.7,53.1 572.1,55.6 571.6,57.8 C571.1,60.0 570.7,62.1 570.2,64.5 C569.7,66.9 569.0,69.4 568.5,72.0 C568.0,74.6 567.3,77.5 567.0,80.0 C566.7,82.5 566.5,84.3 566.6,87.0 C566.7,89.7 566.9,93.2 567.6,96.0 C568.3,98.8 569.5,101.7 571.0,103.9 C572.5,106.2 574.4,107.8 576.7,109.5 C579.0,111.2 582.2,113.0 584.6,114.0 C587.0,115.0 589.3,115.6 591.4,115.7 C593.5,115.8 594.9,114.6 597.0,114.6 C599.1,114.6 601.7,115.7 603.8,115.7 C605.9,115.7 607.1,115.4 609.4,114.6 C611.6,113.8 615.0,112.2 617.3,110.6 C619.6,109.0 621.5,107.2 623.0,105.0 C624.5,102.8 625.7,99.9 626.4,97.1 C627.1,94.3 627.2,91.2 627.3,88.0 C627.4,84.8 627.2,80.7 626.9,78.0 C626.6,75.3 626.0,74.2 625.5,72.0 C625.0,69.8 624.4,67.0 623.8,64.5 C623.2,62.0 622.7,59.3 621.9,56.9 C621.1,54.5 620.2,52.1 619.1,50.2 C618.0,48.3 616.7,46.8 615.3,45.5 C613.9,44.2 612.2,43.1 610.5,42.2 C608.8,41.3 606.5,40.7 604.8,40.3 C603.1,39.9 601.5,39.6 600.1,39.8 C598.7,40.0 597.6,41.4 596.3,41.4Z"/></clipPath>
<path d="M596.5,43.3 L596.3,43.3 L596.1,43.3 L595.8,43.3 L595.7,43.2 L595.5,43.2 L595.2,43.1 L595.0,43.1 L594.7,42.9 L594.5,42.9 L594.2,42.7 L594.1,42.7 L593.8,42.5 L593.8,42.5 L593.5,42.3 L593.2,42.1 L593.0,42.0 L592.8,41.8 L592.6,41.8 L592.4,41.7 L592.2,41.7 L592.0,41.7 L591.6,41.6 L591.2,41.6 L590.8,41.6 L590.4,41.7 L589.9,41.7 L589.5,41.7 L589.0,41.8 L588.6,41.9 L588.1,42.0 L587.7,42.0 L587.3,42.1 L586.8,42.3 L586.4,42.4 L585.9,42.5 L585.5,42.7 L585.0,42.8 L584.6,43.0 L584.2,43.2 L583.7,43.4 L583.3,43.6 L582.9,43.8 L582.5,44.0 L582.1,44.2 L581.7,44.5 L581.3,44.7 L580.9,45.0 L580.5,45.3 L580.1,45.5 L579.8,45.8 L579.4,46.1 L579.1,46.4 L578.7,46.7 L578.4,47.0 L578.1,47.3 L577.8,47.7 L577.6,48.0 L577.3,48.3 L577.1,48.6 L576.8,48.9 L576.6,49.3 L576.4,49.6 L576.2,49.9 L576.0,50.3 L575.8,50.7 L575.6,51.1 L575.4,51.5 L575.3,51.9 L575.1,52.4 L574.9,52.8 L574.8,53.3 L574.6,53.8 L574.4,54.3 L574.3,54.9 L574.1,55.4 L574.0,56.0 L573.9,56.6 L573.7,57.1 L573.6,57.7 L573.6,57.7 L573.4,58.2 L573.3,58.8 L573.2,59.3 L573.1,59.8 L573.0,60.4 L572.9,60.9 L572.8,61.5 L572.6,62.0 L572.5,62.6 L572.5,62.6 L572.4,63.1 L572.4,63.1 L572.3,63.7 L572.3,63.7 L572.2,64.3 L572.2,64.3 L572.1,64.9 L572.1,64.9 L571.9,65.5 L571.9,65.5 L571.8,66.1 L571.8,66.1 L571.6,66.7 L571.6,66.7 L571.5,67.4 L571.5,67.4 L571.4,68.0 L571.2,68.6 L571.1,69.2 L570.9,69.9 L570.8,70.5 L570.6,71.1 L570.5,71.8 L570.4,72.4 L570.2,73.0 L570.2,73.0 L570.1,73.7 L569.9,74.4 L569.8,75.0 L569.7,75.7 L569.5,76.4 L569.4,77.1 L569.3,77.7 L569.2,78.4 L569.1,79.0 L569.0,79.6 L568.9,80.2 L568.8,80.8 L568.7,81.4 L568.7,82.0 L568.6,82.5 L568.6,83.0 L568.5,83.6 L568.5,84.1 L568.5,84.6 L568.5,85.2 L568.5,85.7 L568.5,86.3 L568.5,86.9 L568.5,87.6 L568.6,88.3 L568.6,89.0 L568.6,89.8 L568.7,90.5 L568.8,91.3 L568.8,92.0 L568.9,92.8 L569.0,93.5 L569.1,94.2 L569.3,94.9 L569.4,95.5 L569.6,96.2 L569.8,96.8 L570.0,97.5 L570.3,98.1 L570.5,98.8 L570.8,99.4 L571.0,100.0 L571.3,100.6 L571.6,101.2 L571.9,101.8 L572.2,102.3 L572.6,102.8 L572.9,103.3 L573.3,103.8 L573.7,104.3 L574.0,104.7 L574.5,105.1 L574.9,105.5 L575.3,106.0 L575.8,106.4 L576.3,106.8 L576.8,107.2 L577.3,107.6 L577.8,108.0 L578.4,108.4 L579.0,108.8 L579.6,109.2 L580.2,109.6 L580.9,110.0 L581.5,110.3 L582.2,110.7 L582.8,111.1 L583.5,111.4 L584.1,111.7 L584.8,112.0 L585.3,112.2 L585.9,112.5 L586.5,112.7 L587.0,112.9 L587.6,113.1 L588.1,113.2 L588.6,113.4 L589.1,113.5 L589.6,113.6 L590.1,113.7 L590.6,113.7 L591.0,113.8 L591.5,113.8 L591.8,113.8 L592.1,113.8 L592.5,113.7 L592.8,113.6 L593.2,113.5 L593.6,113.4 L594.1,113.2 L594.1,113.2 L594.5,113.1 L594.6,113.1 L595.1,113.0 L595.2,112.9 L595.6,112.8 L595.8,112.8 L596.2,112.7 L596.4,112.7 L596.9,112.7 L597.1,112.7 L597.6,112.7 L597.7,112.7 L598.3,112.8 L598.4,112.8 L598.9,112.9 L599.0,112.9 L599.6,113.0 L599.6,113.0 L600.2,113.2 L600.2,113.2 L600.8,113.3 L601.4,113.4 L602.0,113.6 L602.5,113.7 L603.0,113.7 L603.4,113.8 L603.8,113.8 L604.3,113.8 L604.7,113.8 L605.1,113.8 L605.4,113.7 L605.8,113.7 L606.2,113.6 L606.5,113.5 L606.9,113.4 L607.3,113.3 L607.7,113.2 L608.2,113.0 L608.7,112.8 L609.3,112.6 L609.9,112.4 L610.5,112.1 L611.2,111.8 L611.8,111.5 L612.5,111.2 L613.2,110.8 L613.8,110.5 L614.5,110.1 L615.1,109.8 L615.7,109.4 L616.2,109.0 L616.7,108.7 L617.2,108.3 L617.7,107.9 L618.2,107.5 L618.7,107.1 L619.1,106.7 L619.5,106.3 L619.9,105.8 L620.3,105.4 L620.7,104.9 L621.1,104.4 L621.4,103.9 L621.8,103.4 L622.1,102.9 L622.4,102.3 L622.7,101.7 L623.0,101.1 L623.3,100.5 L623.5,99.9 L623.8,99.3 L624.0,98.6 L624.2,98.0 L624.4,97.3 L624.6,96.6 L624.7,96.0 L624.8,95.3 L625.0,94.6 L625.0,94.0 L625.1,93.2 L625.2,92.5 L625.2,91.8 L625.3,91.0 L625.3,90.3 L625.4,89.5 L625.4,88.7 L625.4,88.0 L625.4,87.2 L625.4,86.3 L625.4,85.5 L625.4,84.6 L625.4,83.8 L625.3,82.9 L625.3,82.0 L625.3,81.2 L625.2,80.4 L625.1,79.6 L625.1,78.9 L625.0,78.2 L624.9,77.6 L624.9,77.1 L624.8,76.6 L624.7,76.2 L624.6,75.8 L624.5,75.4 L624.3,74.9 L624.2,74.5 L624.2,74.5 L624.1,74.0 L624.1,74.0 L623.9,73.6 L623.9,73.5 L623.8,73.0 L623.8,73.0 L623.7,72.4 L623.6,72.4 L623.5,71.9 L623.5,71.8 L623.4,71.3 L623.4,71.3 L623.2,70.6 L623.1,70.0 L623.0,69.4 L622.8,68.8 L622.7,68.1 L622.5,67.5 L622.4,66.8 L622.2,66.2 L622.1,65.6 L622.0,64.9 L622.0,64.9 L621.8,64.3 L621.8,64.3 L621.7,63.7 L621.7,63.6 L621.5,63.0 L621.4,62.4 L621.2,61.7 L621.1,61.1 L620.9,60.5 L620.8,59.8 L620.6,59.2 L620.4,58.6 L620.3,58.1 L620.1,57.5 L619.9,56.9 L619.7,56.3 L619.5,55.8 L619.3,55.2 L619.1,54.6 L618.9,54.1 L618.6,53.6 L618.4,53.0 L618.2,52.5 L617.9,52.0 L617.7,51.6 L617.5,51.2 L617.2,50.7 L616.9,50.3 L616.7,49.9 L616.4,49.6 L616.1,49.2 L615.9,48.8 L615.6,48.5 L615.3,48.2 L615.0,47.8 L614.7,47.5 L614.3,47.2 L614.0,46.9 L613.7,46.6 L613.3,46.3 L613.0,46.0 L612.7,45.8 L612.3,45.5 L611.9,45.2 L611.6,45.0 L611.2,44.8 L610.8,44.5 L610.4,44.3 L610.1,44.1 L609.7,43.9 L609.3,43.7 L608.9,43.5 L608.4,43.4 L608.0,43.2 L607.5,43.0 L607.1,42.9 L606.6,42.7 L606.1,42.6 L605.7,42.5 L605.2,42.4 L604.8,42.3 L604.4,42.2 L604.0,42.1 L603.6,42.0 L603.2,41.9 L602.8,41.8 L602.4,41.8 L602.1,41.7 L601.8,41.7 L601.5,41.7 L601.2,41.6 L600.9,41.6 L600.6,41.7 L600.4,41.7 L600.2,41.7 L600.1,41.8 L599.9,41.8 L599.7,42.0 L599.4,42.1 L599.1,42.3 L599.1,42.3 L598.8,42.5 L598.8,42.5 L598.5,42.7 L598.4,42.7 L598.1,42.9 L597.9,42.9 L597.6,43.1 L597.4,43.1 L597.1,43.2 L596.9,43.2 L596.8,43.3 L596.5,43.3Z" fill="#e8e8e8"/>
<path d="M596.3,41.4 Q595.4,44.3 595.4,46.7 M591.2,39.7 Q591.3,42.2 591.3,44.3 M585.8,40.6 Q586.1,43.3 586.8,45.4 M582.1,42.1 Q583.6,45.1 584.8,47.6 M577.9,44.9 Q580.0,48.3 582.3,50.7 M574.0,50.0 Q576.6,51.7 578.9,52.7 M572.2,55.2 Q575.5,54.9 577.9,55.8 M570.7,62.0 Q573.8,62.2 576.3,62.8 M569.3,68.4 Q573.2,69.2 576.3,70.0 M568.0,74.3 Q570.2,75.1 572.1,75.4 M567.2,78.7 Q569.6,79.3 571.6,79.6 M566.6,85.1 Q569.4,85.4 571.7,85.4 M566.8,90.1 Q571.2,90.5 574.9,90.1 M567.2,94.1 Q571.9,93.8 575.7,93.1 M568.9,99.9 Q573.1,97.9 576.7,96.5 M571.8,105.0 Q574.8,100.9 578.1,98.7 M576.2,109.1 Q578.2,106.4 579.9,104.2 M580.0,111.6 Q581.6,107.6 583.5,104.6 M585.3,114.3 Q586.6,111.5 587.4,109.2 M590.1,115.6 Q589.8,111.4 590.4,108.2 M594.1,115.2 Q593.6,110.7 592.3,107.3 M599.5,114.9 Q599.5,109.8 600.6,105.9 M605.9,115.6 Q606.4,112.8 605.9,110.6 M611.1,113.9 Q610.8,109.6 609.2,106.8 M616.5,111.2 Q612.7,108.1 611.0,104.7 M620.4,108.1 Q618.3,106.7 617.0,105.2 M623.0,105.0 Q618.3,103.4 615.2,101.0 M625.3,100.6 Q622.2,98.4 619.3,97.5 M626.9,94.3 Q622.5,94.7 619.0,94.0 M627.3,88.9 Q622.9,90.1 619.4,89.7 M627.3,83.4 Q623.9,83.3 621.2,83.4 M626.9,77.9 Q622.7,78.3 619.3,78.8 M625.6,72.5 Q622.9,73.2 620.7,73.8 M624.7,68.6 Q621.2,69.3 618.2,70.0 M623.4,62.8 Q620.4,64.7 617.6,65.0 M622.1,57.4 Q619.2,57.8 617.1,58.6 M620.4,52.7 Q616.9,53.2 614.5,54.5 M618.2,48.8 Q615.7,51.0 613.5,52.4 M614.5,44.8 Q612.8,46.6 611.5,48.2 M608.9,41.5 Q606.9,44.9 605.9,48.0 M602.6,39.9 Q601.1,44.5 600.8,48.3" fill="none" stroke="#c3c3c3" stroke-width="1.9" stroke-linecap="round" clip-path="url(#cax)"/>
<path d="M597,42 L597,55" stroke="#bdbdbd" stroke-width="1.2"/>
<path d="M589,60 Q592,57 595,64 M605,64 Q602,57 605,60" fill="none" stroke="#b0b0b0" stroke-width="1.8"/>
<g filter="url(#blur05)" fill="#cbcbcb">
<ellipse cx="580" cy="74" rx="3" ry="9" transform="rotate(15 580 74)"/>
<ellipse cx="614" cy="74" rx="3" ry="9" transform="rotate(-15 614 74)"/>
<ellipse cx="590" cy="89" rx="4" ry="6"/>
<ellipse cx="604" cy="89" rx="4" ry="6"/>
<ellipse cx="586" cy="104" rx="5" ry="3"/>
<ellipse cx="608" cy="104" rx="5" ry="3"/>
</g>
<path d="M592,80 Q597,76 602,80 L603,97 Q597,102 591,97Z" fill="#b4b4b4"/>
<path d="M594,84 Q597,82 600,84 L600,95 L594,95Z" fill="#a4a4a4"/>
<path d="M583,88 Q586,84 590,88 M611,88 Q608,84 604,88" fill="none" stroke="#b4b4b4" stroke-width="1.5"/>
<path d="M585.8,78.5 Q584.5,76 587.5,70.5 Q590,67 592.3,68.2 Q592.5,72 589.5,76.5 Q587.5,79 585.8,78.5Z" fill="#dc4a40"/>
<path d="M606,62.5 Q609,62 610.5,67 Q612,74 611,78.5 Q607,79 605,76 Q603,70 606,62.5Z" fill="#180b3c"/>
<path d="M603,69 Q605.5,68 607.3,72 Q607.6,76 605.5,77 Q603,74.5 603,69Z" fill="#7d2a86"/>
<g stroke="#111" stroke-width="1">
<line x1="374.5" y1="87.6" x2="551" y2="87.6"/>
<line x1="422.4" y1="42" x2="422.4" y2="114.2"/>
<line x1="513.5" y1="42" x2="513.5" y2="114.2"/>
<line x1="555" y1="70.6" x2="638" y2="70.6"/>
<line x1="603.6" y1="34" x2="603.6" y2="122"/>
</g>
<rect x="663.2" y="7.5" width="4.8" height="141.2" fill="url(#inf)" stroke="#888" stroke-width="0.5"/>
<rect x="610.5" y="179.2" width="17" height="90.8" fill="url(#inf)" stroke="#777" stroke-width="0.6"/>
<rect x="648.5" y="362.3" width="11.2" height="58.6" fill="url(#inf)" stroke="#777" stroke-width="0.5"/>
<clipPath id="lhc"><path d="M378.0,240.0 C377.9,235.1 379.0,229.9 380.0,226.1 C381.0,222.3 382.4,220.1 384.0,217.1 C385.6,214.1 387.1,211.0 389.4,208.0 C391.7,205.0 394.9,201.5 397.6,199.0 C400.3,196.5 402.7,195.1 405.4,192.9 C408.1,190.7 410.7,187.9 413.6,185.7 C416.5,183.4 419.6,181.3 422.6,179.4 C425.6,177.5 428.6,175.7 431.6,174.0 C434.6,172.3 437.7,170.9 440.7,169.5 C443.7,168.1 446.5,166.9 449.7,165.8 C452.9,164.7 457.2,163.9 460.0,163.1 C462.8,162.3 463.6,161.6 466.7,160.8 C469.8,160.0 474.5,159.1 478.4,158.5 C482.3,157.9 486.1,157.5 490.0,157.3 C493.9,157.1 497.8,157.1 501.7,157.3 C505.6,157.5 509.5,157.9 513.4,158.5 C517.3,159.1 521.5,159.7 525.1,160.8 C528.7,161.9 531.6,162.6 535.0,165.0 C538.4,167.4 541.5,171.0 545.3,175.3 C549.1,179.6 553.5,184.2 558.0,191.0 C562.5,197.8 568.3,208.7 572.2,215.8 C576.1,223.0 579.2,228.6 581.3,233.9 C583.4,239.2 584.7,243.7 584.7,247.4 C584.7,251.2 583.4,253.8 581.3,256.4 C579.2,259.0 576.4,260.9 572.2,263.2 C568.1,265.5 562.8,267.4 556.4,270.0 C550.0,272.6 541.4,276.0 533.9,279.0 C526.4,282.0 517.0,285.6 511.3,288.0 C505.7,290.4 503.8,292.0 500.0,293.5 C496.2,295.0 492.3,296.1 488.3,297.2 C484.3,298.3 480.0,299.4 475.9,300.3 C471.8,301.2 467.0,302.5 463.5,302.8 C460.0,303.1 457.3,303.1 454.8,302.2 C452.3,301.3 450.3,299.3 448.6,297.2 C446.9,295.1 446.1,292.3 444.8,289.8 C443.6,287.3 442.8,284.4 441.1,282.3 C439.5,280.2 437.2,278.6 434.9,277.4 C432.6,276.2 431.9,275.9 427.5,274.9 C423.1,273.9 414.8,273.3 408.4,271.6 C402.0,269.9 393.8,267.6 389.2,264.9 C384.6,262.2 382.5,259.4 380.6,255.3 C378.7,251.2 378.1,244.9 378.0,240.0Z"/></clipPath>
<path d="M378.0,240.0 C377.9,235.1 379.0,229.9 380.0,226.1 C381.0,222.3 382.4,220.1 384.0,217.1 C385.6,214.1 387.1,211.0 389.4,208.0 C391.7,205.0 394.9,201.5 397.6,199.0 C400.3,196.5 402.7,195.1 405.4,192.9 C408.1,190.7 410.7,187.9 413.6,185.7 C416.5,183.4 419.6,181.3 422.6,179.4 C425.6,177.5 428.6,175.7 431.6,174.0 C434.6,172.3 437.7,170.9 440.7,169.5 C443.7,168.1 446.5,166.9 449.7,165.8 C452.9,164.7 457.2,163.9 460.0,163.1 C462.8,162.3 463.6,161.6 466.7,160.8 C469.8,160.0 474.5,159.1 478.4,158.5 C482.3,157.9 486.1,157.5 490.0,157.3 C493.9,157.1 497.8,157.1 501.7,157.3 C505.6,157.5 509.5,157.9 513.4,158.5 C517.3,159.1 521.5,159.7 525.1,160.8 C528.7,161.9 531.6,162.6 535.0,165.0 C538.4,167.4 541.5,171.0 545.3,175.3 C549.1,179.6 553.5,184.2 558.0,191.0 C562.5,197.8 568.3,208.7 572.2,215.8 C576.1,223.0 579.2,228.6 581.3,233.9 C583.4,239.2 584.7,243.7 584.7,247.4 C584.7,251.2 583.4,253.8 581.3,256.4 C579.2,259.0 576.4,260.9 572.2,263.2 C568.1,265.5 562.8,267.4 556.4,270.0 C550.0,272.6 541.4,276.0 533.9,279.0 C526.4,282.0 517.0,285.6 511.3,288.0 C505.7,290.4 503.8,292.0 500.0,293.5 C496.2,295.0 492.3,296.1 488.3,297.2 C484.3,298.3 480.0,299.4 475.9,300.3 C471.8,301.2 467.0,302.5 463.5,302.8 C460.0,303.1 457.3,303.1 454.8,302.2 C452.3,301.3 450.3,299.3 448.6,297.2 C446.9,295.1 446.1,292.3 444.8,289.8 C443.6,287.3 442.8,284.4 441.1,282.3 C439.5,280.2 437.2,278.6 434.9,277.4 C432.6,276.2 431.9,275.9 427.5,274.9 C423.1,273.9 414.8,273.3 408.4,271.6 C402.0,269.9 393.8,267.6 389.2,264.9 C384.6,262.2 382.5,259.4 380.6,255.3 C378.7,251.2 378.1,244.9 378.0,240.0Z" fill="url(#lhg)"/>
<g clip-path="url(#lhc)">
<g filter="url(#blur5)">
<ellipse cx="552" cy="222" rx="24" ry="30" fill="#c8c8c8"/>
<ellipse cx="485" cy="228" rx="30" ry="20" fill="#b7b7b7"/>
<ellipse cx="484" cy="250" rx="22" ry="9" fill="#bababa"/>
<ellipse cx="410" cy="212" rx="16" ry="14" fill="#bbbbbb"/>
<ellipse cx="383" cy="250" rx="9" ry="20" fill="#a9a9a9"/>
</g>
<g filter="url(#blur3)">
<path d="M455,206 Q500,199 516,206 Q527,214 524,244" fill="none" stroke="#ababab" stroke-width="7" stroke-linecap="round"/>
</g>
</g>
<linearGradient id="og" x1="0" y1="0" x2="0" y2="1"><stop offset="0" stop-color="#e2692c"/><stop offset="1" stop-color="#c95e28"/></linearGradient>
<linearGradient id="yg" x1="0" y1="0" x2="0" y2="1"><stop offset="0" stop-color="#d2ad31"/><stop offset="1" stop-color="#c6a532"/></linearGradient>
<path d="M474.7,161.3 L485.5,159.0 L483.7,164.0 L477.4,168.5 L468.3,174.9 L463.8,182.1 L460.2,191.1 L457.5,202.0 L454.8,212.8 L453.9,223.6 L451.2,227.2 L445.8,226.3 L444.0,216.4 L446.7,203.8 L447.6,191.1 L446.7,183.0 L452.1,179.4 L461.1,175.8 L469.2,167.6Z" fill="#050308"/>
<path d="M410.2,226.2 L413.0,224.2 L417.9,224.6 L424.3,222.2 L427.9,223.0 L428.3,225.4 L431.5,228.3 L436.3,229.9 L442.0,229.1 L445.2,227.9 L448.4,229.5 L453.2,231.5 L456.8,233.1 L451.6,234.3 L445.2,235.9 L438.7,237.9 L431.5,239.9 L428.3,239.5 L422.7,237.5 L417.0,235.1 L412.2,232.3 L410.2,229.5Z" fill="url(#yg)"/>
<path d="M444.0,183.0 L446.7,184.8 L447.6,191.1 L446.7,203.8 L444.0,216.4 L443.1,226.3 L439.4,229.0 L434.0,228.1 L428.6,223.6 L429.5,216.4 L432.2,205.6 L432.2,196.5 L430.4,193.8 L434.0,190.2 L438.5,186.6Z" fill="url(#og)"/>
<path d="M506.0,159.5 L513.9,159.5 L522.3,162.3 L518.9,167.4 L518.4,171.9 L520.1,177.6 L519.5,182.1 L522.3,185.5 L511.6,187.2 L502.6,189.4 L494.7,194.5 L491.3,198.5 L485.6,198.5 L485.1,191.1 L490.2,184.3 L496.9,177.6 L504.3,171.9 L508.2,168.5 L506.5,164.0Z" fill="#100c36"/>
<path d="M475.1,234.6 L480.2,229.5 L488.3,226.9 L496.4,224.4 L503.5,218.3 L510.7,213.2 L513.7,212.2 L516.2,217.8 L514.7,222.4 L508.6,227.4 L503.5,232.5 L499.5,237.6 L496.4,236.1 L485.2,236.1 L477.1,235.6Z" fill="#06040c"/>
<clipPath id="rmc"><path d="M358.2,407.3 C357.9,403.4 358.4,398.7 359.3,394.4 C360.2,390.1 361.8,385.4 363.6,381.5 C365.4,377.6 367.1,374.0 370.0,370.8 C372.9,367.6 376.9,364.7 380.8,362.2 C384.8,359.7 389.1,357.5 393.7,355.7 C398.3,353.9 404.3,352.6 408.7,351.4 C413.1,350.2 416.1,349.1 420.0,348.4 C423.9,347.7 428.1,347.2 432.2,347.1 C436.3,347.0 440.3,347.0 444.4,347.7 C448.4,348.4 452.8,349.4 456.5,351.2 C460.2,353.0 463.6,355.4 466.7,358.3 C469.8,361.2 472.1,364.7 474.8,368.4 C477.5,372.1 480.2,376.5 482.9,380.6 C485.6,384.7 489.1,389.1 491.1,392.8 C493.1,396.5 494.6,400.0 495.1,402.9 C495.6,405.8 495.5,407.8 494.1,410.0 C492.8,412.2 490.2,414.7 487.0,416.1 C483.8,417.5 479.2,417.5 474.8,418.2 C470.4,418.9 465.3,419.4 460.6,420.2 C455.9,421.0 451.1,422.0 446.4,423.2 C441.7,424.4 436.6,426.0 432.2,427.3 C427.8,428.6 423.2,429.6 420.0,431.0 C416.8,432.4 414.9,434.6 413.0,435.5 C411.1,436.4 409.9,436.7 408.7,436.3 C407.4,435.9 406.9,434.1 405.5,433.0 C404.1,431.9 403.2,430.7 400.1,429.8 C397.1,428.9 391.9,428.6 387.2,427.7 C382.5,426.8 376.5,426.1 372.2,424.5 C367.9,422.9 363.7,420.9 361.4,418.0 C359.1,415.1 358.5,411.2 358.2,407.3Z"/></clipPath>
<path d="M358.2,407.3 C357.9,403.4 358.4,398.7 359.3,394.4 C360.2,390.1 361.8,385.4 363.6,381.5 C365.4,377.6 367.1,374.0 370.0,370.8 C372.9,367.6 376.9,364.7 380.8,362.2 C384.8,359.7 389.1,357.5 393.7,355.7 C398.3,353.9 404.3,352.6 408.7,351.4 C413.1,350.2 416.1,349.1 420.0,348.4 C423.9,347.7 428.1,347.2 432.2,347.1 C436.3,347.0 440.3,347.0 444.4,347.7 C448.4,348.4 452.8,349.4 456.5,351.2 C460.2,353.0 463.6,355.4 466.7,358.3 C469.8,361.2 472.1,364.7 474.8,368.4 C477.5,372.1 480.2,376.5 482.9,380.6 C485.6,384.7 489.1,389.1 491.1,392.8 C493.1,396.5 494.6,400.0 495.1,402.9 C495.6,405.8 495.5,407.8 494.1,410.0 C492.8,412.2 490.2,414.7 487.0,416.1 C483.8,417.5 479.2,417.5 474.8,418.2 C470.4,418.9 465.3,419.4 460.6,420.2 C455.9,421.0 451.1,422.0 446.4,423.2 C441.7,424.4 436.6,426.0 432.2,427.3 C427.8,428.6 423.2,429.6 420.0,431.0 C416.8,432.4 414.9,434.6 413.0,435.5 C411.1,436.4 409.9,436.7 408.7,436.3 C407.4,435.9 406.9,434.1 405.5,433.0 C404.1,431.9 403.2,430.7 400.1,429.8 C397.1,428.9 391.9,428.6 387.2,427.7 C382.5,426.8 376.5,426.1 372.2,424.5 C367.9,422.9 363.7,420.9 361.4,418.0 C359.1,415.1 358.5,411.2 358.2,407.3Z" fill="url(#rmg)"/>
<g clip-path="url(#rmc)">
<g filter="url(#blur3)">
<path d="M392,372 Q425,360 455,367 Q470,375 478,392" fill="none" stroke="#b6b6b6" stroke-width="6"/>
<ellipse cx="482" cy="396" rx="9" ry="14" fill="#c4c4c4"/>
</g>
<g filter="url(#blur1s)">
<path d="M358.2,407.3 C357.9,403.4 358.4,398.7 359.3,394.4 C360.2,390.1 361.8,385.4 363.6,381.5 C365.4,377.6 367.1,374.0 370.0,370.8 C372.9,367.6 376.9,364.7 380.8,362.2 C384.8,359.7 389.1,357.5 393.7,355.7 C398.3,353.9 404.3,352.6 408.7,351.4 C413.1,350.2 416.1,349.1 420.0,348.4 C423.9,347.7 428.1,347.2 432.2,347.1 C436.3,347.0 440.3,347.0 444.4,347.7 C448.4,348.4 452.8,349.4 456.5,351.2 C460.2,353.0 463.6,355.4 466.7,358.3 C469.8,361.2 472.1,364.7 474.8,368.4 C477.5,372.1 480.2,376.5 482.9,380.6 C485.6,384.7 489.1,389.1 491.1,392.8 C493.1,396.5 494.6,400.0 495.1,402.9 C495.6,405.8 495.5,407.8 494.1,410.0 C492.8,412.2 490.2,414.7 487.0,416.1 C483.8,417.5 479.2,417.5 474.8,418.2 C470.4,418.9 465.3,419.4 460.6,420.2 C455.9,421.0 451.1,422.0 446.4,423.2 C441.7,424.4 436.6,426.0 432.2,427.3 C427.8,428.6 423.2,429.6 420.0,431.0 C416.8,432.4 414.9,434.6 413.0,435.5 C411.1,436.4 409.9,436.7 408.7,436.3 C407.4,435.9 406.9,434.1 405.5,433.0 C404.1,431.9 403.2,430.7 400.1,429.8 C397.1,428.9 391.9,428.6 387.2,427.7 C382.5,426.8 376.5,426.1 372.2,424.5 C367.9,422.9 363.7,420.9 361.4,418.0 C359.1,415.1 358.5,411.2 358.2,407.3Z" fill="none" stroke="#9e9e9e" stroke-width="2.2"/>
</g>
</g>
<path d="M376.5,377.2 L380.8,375.1 L380.8,381.5 L381.8,391.2 L378.6,394.4 L376.5,403.0 L377.5,409.4 L382.9,413.7 L387.2,418.0 L389.4,420.2 L385.1,422.3 L376.5,421.2 L365.7,418.0 L360.4,411.6 L359.3,403.0 L361.4,392.2 L366.8,383.7 L372.2,379.4Z" fill="#3a0e6a"/>
<path d="M380.8,375.1 L389.4,368.6 L393.7,363.3 L400.1,361.1 L403.3,366.5 L407.6,372.9 L406.5,379.4 L397.9,382.6 L389.4,386.9 L381.8,391.2 L380.8,381.5Z" fill="#b8335f"/>
<path d="M379,404 Q379.5,397 383,394 Q389,389.5 396,387.5 Q405,385 415,383 Q425,382 432,382.8 Q442,384.5 449.5,389.5 Q453,393 453.5,400" fill="none" stroke="#140a3a" stroke-width="5.2" stroke-linecap="round"/>
<clipPath id="rlc"><path d="M499.3,402.9 C499.3,399.7 500.0,397.5 501.4,394.3 C502.8,391.1 505.4,387.2 507.9,383.6 C510.4,380.0 513.5,376.5 516.4,372.9 C519.2,369.3 522.1,365.2 525.0,362.2 C527.9,359.2 530.4,356.7 533.6,354.7 C536.8,352.7 540.0,351.4 544.3,350.4 C548.6,349.4 554.2,348.7 559.3,348.5 C564.4,348.3 570.1,348.6 575.0,349.3 C579.9,350.0 584.0,351.0 588.5,352.5 C593.0,354.0 597.6,355.8 602.1,358.3 C606.6,360.8 611.8,364.2 615.6,367.5 C619.4,370.8 622.6,374.3 625.1,377.8 C627.6,381.3 629.4,385.1 630.5,388.6 C631.6,392.1 631.8,395.9 631.8,399.0 C631.8,402.1 631.1,404.7 630.3,407.0 C629.5,409.3 629.0,411.1 626.8,412.7 C624.5,414.3 620.3,415.6 616.8,416.9 C613.2,418.2 608.8,419.3 605.5,420.5 C602.2,421.7 599.0,422.7 596.9,424.0 C594.8,425.3 593.9,426.4 592.7,428.3 C591.5,430.2 591.0,433.5 589.8,435.4 C588.6,437.3 587.5,438.6 585.6,439.7 C583.7,440.8 581.6,441.6 578.5,441.8 C575.4,442.0 570.3,441.8 567.1,441.1 C563.9,440.4 563.4,439.2 559.3,437.5 C555.1,435.8 547.6,432.8 542.2,430.8 C536.9,428.8 532.2,427.2 527.2,425.4 C522.2,423.6 516.5,422.1 512.2,420.1 C507.9,418.1 503.5,416.5 501.4,413.6 C499.2,410.7 499.3,406.1 499.3,402.9Z"/></clipPath>
<path d="M499.3,402.9 C499.3,399.7 500.0,397.5 501.4,394.3 C502.8,391.1 505.4,387.2 507.9,383.6 C510.4,380.0 513.5,376.5 516.4,372.9 C519.2,369.3 522.1,365.2 525.0,362.2 C527.9,359.2 530.4,356.7 533.6,354.7 C536.8,352.7 540.0,351.4 544.3,350.4 C548.6,349.4 554.2,348.7 559.3,348.5 C564.4,348.3 570.1,348.6 575.0,349.3 C579.9,350.0 584.0,351.0 588.5,352.5 C593.0,354.0 597.6,355.8 602.1,358.3 C606.6,360.8 611.8,364.2 615.6,367.5 C619.4,370.8 622.6,374.3 625.1,377.8 C627.6,381.3 629.4,385.1 630.5,388.6 C631.6,392.1 631.8,395.9 631.8,399.0 C631.8,402.1 631.1,404.7 630.3,407.0 C629.5,409.3 629.0,411.1 626.8,412.7 C624.5,414.3 620.3,415.6 616.8,416.9 C613.2,418.2 608.8,419.3 605.5,420.5 C602.2,421.7 599.0,422.7 596.9,424.0 C594.8,425.3 593.9,426.4 592.7,428.3 C591.5,430.2 591.0,433.5 589.8,435.4 C588.6,437.3 587.5,438.6 585.6,439.7 C583.7,440.8 581.6,441.6 578.5,441.8 C575.4,442.0 570.3,441.8 567.1,441.1 C563.9,440.4 563.4,439.2 559.3,437.5 C555.1,435.8 547.6,432.8 542.2,430.8 C536.9,428.8 532.2,427.2 527.2,425.4 C522.2,423.6 516.5,422.1 512.2,420.1 C507.9,418.1 503.5,416.5 501.4,413.6 C499.2,410.7 499.3,406.1 499.3,402.9Z" fill="url(#rlg)"/>
<g clip-path="url(#rlc)">
<g filter="url(#blur2)">
<path d="M490,378 Q505,372 522,372 Q540,372 548,374.5 Q562,376.5 575,374 Q590,371 605,368 Q620,372 640,385 L640,330 L490,330Z" fill="#c7c7c7"/>
<path d="M553,377 Q575,372 597,381 Q601,392 595,398 Q575,398 560,394 Q550,389 553,377Z" fill="#a6a6a6"/>
<path d="M548.5,377 Q545,388 550,394 Q560,400.5 575,402.5 Q590,404.5 604,402" fill="none" stroke="#c3c3c3" stroke-width="7"/>
<path d="M530,404 Q552,413 581,421" fill="none" stroke="#bcbcbc" stroke-width="5"/>
<path d="M600,404 Q615,404 634,398 L634,422 L598,424Z" fill="#a9a9a9"/>
<path d="M500,422 Q530,424 560,438 L560,446 L495,446Z" fill="#acacac"/>
</g>
</g>
<path d="M579.7,354.1 L585.8,354.8 L595.3,358.2 L604.8,362.9 L612.9,369.7 L619.7,376.4 L621.7,379.8 L618.3,378.5 L611.6,372.4 L602.1,365.6 L592.6,360.9 L583.1,357.5 L580.4,356.1Z" fill="#eef590"/>
<path d="M597.3,370.3 L602.1,371.7 L604.1,375.1 L607.5,380.5 L612.9,385.2 L618.3,388.0 L622.4,390.0 L625.1,394.1 L625.8,398.8 L622.4,401.5 L619.7,399.5 L617.0,394.7 L611.6,392.7 L606.2,392.0 L602.1,391.3 L600.1,387.3 L598.7,381.9 L598.0,375.1Z" fill="#eef590"/>
<path d="M587.9,366.3 L592.6,367.0 L596.7,368.3 L598.0,375.1 L598.7,381.9 L600.1,387.3 L601.4,391.3 L599.4,393.4 L591.9,393.4 L589.9,388.6 L589.2,381.9 L588.5,375.1Z" fill="#b3306c"/>
<path d="M545.1,397 Q550.2,399.5 555.2,404.6 Q562.8,409 570.4,414.1 Q577.9,420.4 584.3,426.7 Q586.5,429.5 586.5,433.5" fill="none" stroke="#d8434a" stroke-width="4.7" stroke-linecap="round"/>
</svg>
<div style="position:absolute;left:383.00px;top:42.37px;font-size:7.0px;line-height:7.0px;color:#222;white-space:nowrap;">L</div>
<div style="position:absolute;left:443.80px;top:42.37px;font-size:7.0px;line-height:7.0px;color:#222;white-space:nowrap;">R</div>
<div style="position:absolute;left:563.90px;top:33.67px;font-size:7.0px;line-height:7.0px;color:#222;white-space:nowrap;">L</div>
<div style="position:absolute;left:624.90px;top:33.67px;font-size:7.0px;line-height:7.0px;color:#222;white-space:nowrap;">R</div>
<div style="position:absolute;left:374.60px;top:110.47px;font-size:7.0px;line-height:7.0px;color:#222;white-space:nowrap;transform:scaleX(1.25);transform-origin:left center;">y=0</div>
<div style="position:absolute;left:457.30px;top:110.47px;font-size:7.0px;line-height:7.0px;color:#222;white-space:nowrap;transform:scaleX(1.25);transform-origin:left center;">x=15</div>
<div style="position:absolute;left:555.40px;top:119.87px;font-size:7.0px;line-height:7.0px;color:#222;white-space:nowrap;transform:scaleX(1.2);transform-origin:left center;">z=0</div>
<div style="position:absolute;right:26.60px;top:4.56px;font-size:6.9px;line-height:6.9px;color:#222;white-space:nowrap;">0.02</div>
<div style="position:absolute;right:26.60px;top:39.96px;font-size:6.9px;line-height:6.9px;color:#222;white-space:nowrap;">0.018</div>
<div style="position:absolute;right:26.60px;top:75.16px;font-size:6.9px;line-height:6.9px;color:#222;white-space:nowrap;">0.015</div>
<div style="position:absolute;right:26.60px;top:109.96px;font-size:6.9px;line-height:6.9px;color:#222;white-space:nowrap;">0.013</div>
<div style="position:absolute;right:26.60px;top:144.96px;font-size:6.9px;line-height:6.9px;color:#222;white-space:nowrap;">0.01</div>
<div style="position:absolute;left:630.60px;top:173.17px;font-size:13.5px;line-height:13.5px;color:#111;white-space:nowrap;transform:scaleX(1.075);transform-origin:left center;">0.02</div>
<div style="position:absolute;left:630.60px;top:218.47px;font-size:13.5px;line-height:13.5px;color:#111;white-space:nowrap;transform:scaleX(1.075);transform-origin:left center;">0.015</div>
<div style="position:absolute;left:630.60px;top:263.97px;font-size:13.5px;line-height:13.5px;color:#111;white-space:nowrap;transform:scaleX(1.075);transform-origin:left center;">0.01</div>
<div style="position:absolute;left:661.50px;top:358.62px;font-size:8.6px;line-height:8.6px;color:#111;white-space:nowrap;transform:scaleX(1.08);transform-origin:left center;">0.02</div>
<div style="position:absolute;left:661.50px;top:387.62px;font-size:8.6px;line-height:8.6px;color:#111;white-space:nowrap;transform:scaleX(1.08);transform-origin:left center;">0.015</div>
<div style="position:absolute;left:661.50px;top:417.02px;font-size:8.6px;line-height:8.6px;color:#111;white-space:nowrap;transform:scaleX(1.08);transform-origin:left center;">0.01</div>
</body></html>
